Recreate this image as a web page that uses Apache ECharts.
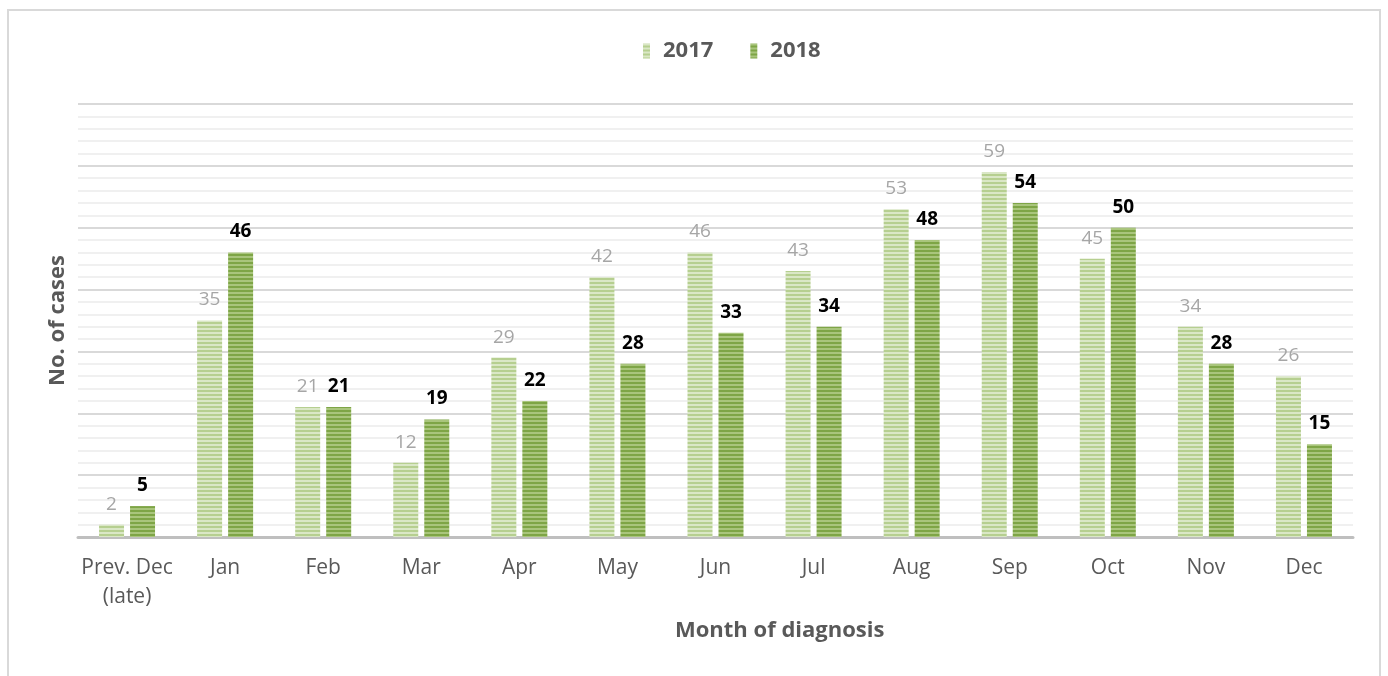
<!DOCTYPE html>
<html>
<head>
    <meta charset="UTF-8">
    <title>Month of diagnosis</title>
    <script src="https://cdn.jsdelivr.net/npm/echarts@6/dist/echarts.min.js"></script>
    <style>
        html, body { margin: 0; padding: 0; background: #fff; }
        #main { width: 1388px; height: 676px; }
    </style>
</head>
<body>
<div id="main"></div>
<script>
    var months = ['Prev. Dec\n(late)', 'Jan', 'Feb', 'Mar', 'Apr', 'May', 'Jun', 'Jul', 'Aug', 'Sep', 'Oct', 'Nov', 'Dec'];
    var cases2017 = [2, 35, 21, 12, 29, 42, 46, 43, 53, 59, 45, 34, 26];
    var cases2018 = [5, 46, 21, 19, 22, 28, 33, 34, 48, 54, 50, 28, 15];

    // striped fill like the original bars
    function stripes(light, dark) {
        var c = document.createElement('canvas');
        c.width = 4;
        c.height = 4;
        var ctx = c.getContext('2d');
        ctx.fillStyle = light;
        ctx.fillRect(0, 0, 4, 4);
        ctx.fillStyle = dark;
        ctx.fillRect(0, 2, 4, 2);
        return { image: c, repeat: 'repeat' };
    }

    var font = '"Open Sans", Lato, sans-serif';

    var option = {
        textStyle: { fontFamily: font },
        title: {
            text: 'Month of diagnosis',
            left: 670,
            top: 615,
            textStyle: { fontSize: 22, fontWeight: 'bold', color: '#595959', fontFamily: font }
        },
        legend: {
            top: 35,
            left: 638,
            itemWidth: 7,
            itemHeight: 15,
            itemGap: 37,
            icon: 'rect',
            textStyle: { fontSize: 22, fontWeight: 'bold', color: '#595959', padding: [0, 0, 0, 8] },
            data: ['2017', '2018']
        },
        graphic: [{
            type: 'rect',
            silent: true,
            shape: { x: 8, y: 10, width: 1372, height: 690 },
            style: { fill: 'none', stroke: '#d9d9d9', lineWidth: 2 }
        }],
        grid: { left: 78, right: 35, top: 104, bottom: 139 },
        xAxis: {
            type: 'category',
            data: months,
            axisTick: { show: false },
            axisLine: { lineStyle: { color: '#bfbfbf', width: 3 } },
            axisLabel: { interval: 0, color: '#595959', fontSize: 21, margin: 17, lineHeight: 29 }
        },
        yAxis: {
            type: 'value',
            min: 0,
            max: 70,
            interval: 10,
            name: 'No. of cases',
            nameLocation: 'middle',
            nameGap: 9,
            nameTextStyle: { fontSize: 22, fontWeight: 'bold', color: '#595959' },
            axisLabel: { show: false },
            axisLine: { show: false },
            axisTick: { show: false },
            splitLine: { lineStyle: { color: '#d9d9d9', width: 2 } },
            minorTick: { show: false, splitNumber: 5 },
            minorSplitLine: { show: true, lineStyle: { color: '#f0f0f0', width: 2 } }
        },
        series: [
            {
                name: '2017',
                type: 'bar',
                data: cases2017,
                barWidth: 25,
                barGap: '24%',
                itemStyle: { color: stripes('#dae7c6', '#b6cf90') },
                label: {
                    show: true,
                    position: 'top',
                    distance: 11,
                    color: '#a6a6a6',
                    fontSize: 19
                }
            },
            {
                name: '2018',
                type: 'bar',
                data: cases2018,
                barWidth: 25,
                itemStyle: { color: stripes('#a9c57c', '#7ea546') },
                label: {
                    show: true,
                    position: 'top',
                    distance: 11,
                    color: '#000',
                    fontWeight: 'bold',
                    fontSize: 19
                }
            }
        ]
    };

    var myChart = echarts.init(document.getElementById('main'));
    myChart.setOption(option);
</script>
</body>
</html>
